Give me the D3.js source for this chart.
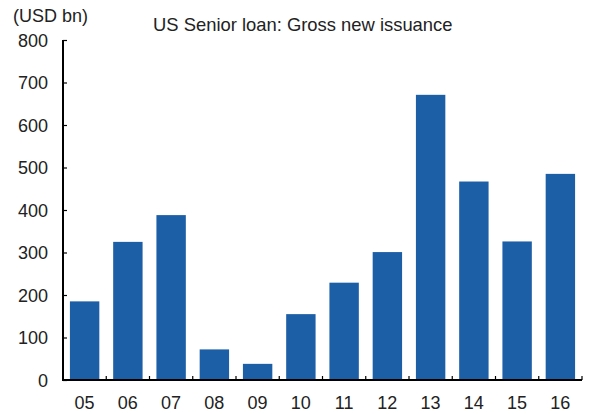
<!DOCTYPE html>
<html>
<head>
<meta charset="utf-8">
<script src="https://cdn.jsdelivr.net/npm/d3@7"></script>
<style>
  html, body { margin: 0; padding: 0; background: #fff; }
  svg text { font-family: "Liberation Sans", Arial, sans-serif; fill: #222; }
</style>
</head>
<body>
<svg id="chart" width="590" height="414"></svg>
<script>
// Gross new issuance of US senior loans by year
const years = ["05", "06", "07", "08", "09", "10", "11", "12", "13", "14", "15", "16"];
const issuance = [185, 325, 388, 72, 38, 155, 229, 301, 671, 467, 326, 485];
const yTicks = [0, 100, 200, 300, 400, 500, 600, 700, 800];
const title = "US Senior loan: Gross new issuance";
const unitLabel = "(USD bn)";

const W = 590, H = 414;
const margin = { top: 40, right: 8, bottom: 34, left: 63 };
const svg = d3.select("#chart");

const x = d3.scaleBand()
  .domain(years)
  .range([margin.left, W - margin.right])
  .paddingInner(0.32)
  .paddingOuter(0.16);

const y = d3.scaleLinear()
  .domain([0, 800])
  .range([H - margin.bottom, margin.top]);

// Bars
svg.append("g")
  .selectAll("rect")
  .data(years)
  .join("rect")
  .attr("x", d => x(d))
  .attr("width", x.bandwidth())
  .attr("y", (d, i) => y(issuance[i]))
  .attr("height", (d, i) => y(0) - y(issuance[i]))
  .attr("fill", "#1d5fa7");

// Y axis: ticks point into the plot
const yAxis = svg.append("g")
  .attr("transform", `translate(${margin.left},0)`)
  .call(d3.axisRight(y).tickValues(yTicks).tickSize(4).tickFormat(d3.format("d")));
yAxis.select(".domain").attr("stroke", "#000").attr("stroke-width", 2).attr("d", `M0,${y(0)}V${y(800)}`);
yAxis.selectAll(".tick line").attr("stroke", "#000").attr("stroke-width", 1.2);
yAxis.selectAll(".tick text")
  .attr("x", -15)
  .attr("text-anchor", "end")
  .attr("font-size", 18)
  .attr("dy", "0.35em");

// X axis: category boundaries marked with short upward ticks
const bounds = years.map(d => x(d) - x.step() * x.paddingInner() / 2).concat([W - margin.right]);
const xg = svg.append("g");
xg.append("line")
  .attr("x1", margin.left - 1).attr("x2", W - margin.right)
  .attr("y1", y(0)).attr("y2", y(0))
  .attr("stroke", "#000").attr("stroke-width", 2);
xg.selectAll("line.bt")
  .data(bounds.slice(1))
  .join("line")
  .attr("class", "bt")
  .attr("x1", d => d).attr("x2", d => d)
  .attr("y1", y(0)).attr("y2", y(0) - 4)
  .attr("stroke", "#000").attr("stroke-width", 1.2);
xg.selectAll("text")
  .data(years)
  .join("text")
  .attr("x", d => x(d) + x.bandwidth() / 2)
  .attr("y", 409)
  .attr("text-anchor", "middle")
  .attr("font-size", 18)
  .text(d => d);

// Unit label and title
svg.append("text")
  .attr("x", 13).attr("y", 22)
  .attr("font-size", 18)
  .text(unitLabel);
svg.append("text")
  .attr("x", 153).attr("y", 31)
  .attr("font-size", 18.4)
  .text(title);
</script>
</body>
</html>
